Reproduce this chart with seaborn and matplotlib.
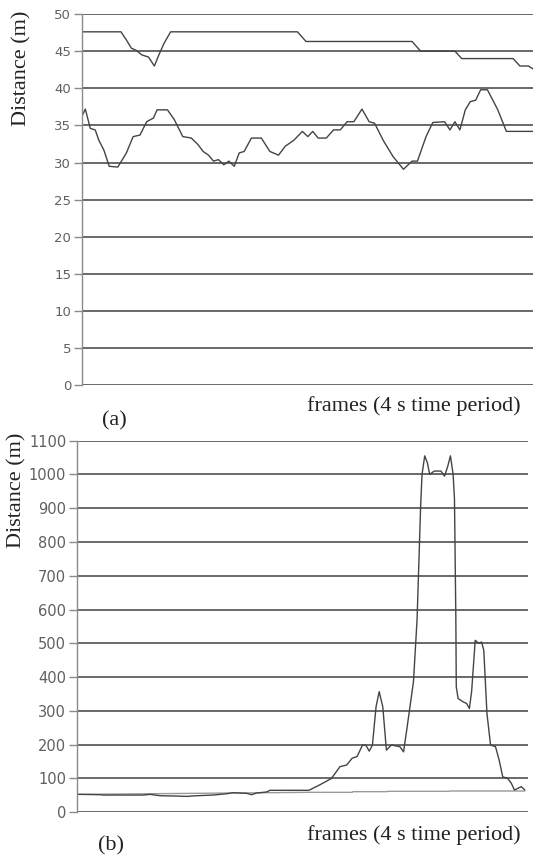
import matplotlib
matplotlib.use("Agg")
import matplotlib.pyplot as plt
import numpy as np
import pandas as pd
import seaborn as sns

# Panel (a): two distance traces over the frames of a 4 s period
a_upper_frames = [0, 8.7, 9.9, 11.0, 12.1, 13.3, 14.8, 16.1, 17.1, 18.2, 19.7, 47.8, 49.7,
                  73.2, 75.1, 82.7, 84.2, 95.6, 97.1, 99.0, 100]
a_upper_dist = [47.6, 47.6, 46.5, 45.4, 45.1, 44.5, 44.2, 43.0, 44.5, 46.0, 47.6, 47.6, 46.3,
                46.3, 45.0, 45.0, 44.0, 44.0, 43.0, 43.0, 42.6]

a_lower_frames = [0, 0.8, 1.9, 3.0, 3.8, 4.9, 6.1, 8.0, 8.3, 9.9, 11.4, 12.9, 14.4, 15.9, 16.7,
                  19.0, 20.5, 22.4, 24.3, 25.8, 26.9, 28.1, 29.2, 30.3, 31.5, 32.6, 33.8, 34.9,
                  36.0, 37.6, 39.8, 41.7, 43.6, 45.1, 47.0, 48.9, 50.1, 51.2, 52.4, 54.2, 55.8,
                  57.3, 58.8, 60.3, 62.1, 63.7, 64.9, 66.8, 69.0, 71.3, 73.2, 74.4, 76.3, 77.8,
                  80.4, 81.6, 82.7, 83.8, 85.0, 86.1, 87.3, 88.4, 89.9, 92.2, 94.1, 100]
a_lower_dist = [36.2, 37.2, 34.6, 34.4, 33.0, 31.7, 29.5, 29.4, 29.7, 31.3, 33.5, 33.7, 35.5,
                36.0, 37.1, 37.1, 35.8, 33.5, 33.3, 32.4, 31.5, 31.0, 30.2, 30.4, 29.7, 30.2,
                29.5, 31.3, 31.5, 33.3, 33.3, 31.5, 31.0, 32.2, 33.0, 34.2, 33.5, 34.2, 33.3,
                33.3, 34.4, 34.4, 35.5, 35.5, 37.2, 35.5, 35.3, 33.0, 30.8, 29.1, 30.2, 30.2,
                33.5, 35.4, 35.5, 34.4, 35.5, 34.4, 37.1, 38.2, 38.4, 39.8, 39.8, 37.1, 34.2, 34.2]

# Panel (b)
b_main_frames = [0, 0.7, 5.2, 5.9, 14.8, 16.3, 18.5, 22.2, 24.4, 26.6, 30.3, 33.3, 34.7, 37.7,
                 38.8, 39.9, 42.1, 42.9, 51.5, 53.9, 56.5, 58.4, 59.9, 61.1, 62.2, 63.4, 64.1,
                 64.9, 65.6, 66.4, 67.1, 67.9, 68.7, 69.8, 71.7, 72.5, 73.2, 74.7, 75.5, 76.3,
                 76.6, 77.2, 77.8, 78.3, 79.3, 80.8, 81.6, 82.3, 82.9, 83.5, 83.8, 84.1, 84.2,
                 84.6, 85.7, 86.5, 87.1, 87.6, 88.4, 89.2, 89.8, 90.3, 91.0, 91.8, 92.9, 93.7,
                 94.5, 95.6, 96.4, 97.1, 97.9, 98.6, 99.4]
b_main_dist = [53, 53, 52, 51, 51, 53, 49, 48, 47, 49, 51, 55, 58, 56, 52, 57, 60, 65, 65, 81,
               100, 135, 140, 160, 165, 199, 199, 181, 199, 312, 357, 312, 184, 199, 194, 179,
               243, 386, 570, 908, 1000, 1055, 1034, 1000, 1010, 1010, 995, 1024, 1055, 1000,
               927, 578, 371, 337, 327, 322, 307, 357, 509, 500, 504, 480, 293, 199, 194, 155,
               105, 100, 86, 66, 71, 76, 66]

b_base_frames = [0, 51.5, 61.1, 61.3, 68.8, 69.0, 82.7, 82.9, 99.4]
b_base_dist = [53, 59, 59, 61, 61, 62, 62, 63, 63]

a_ticks = list(range(0, 55, 5))
b_ticks = list(range(0, 1200, 100))

xlabel = "frames (4 s time period)"
ylabel = "Distance (m)"

sns.set_theme(style="white")
plt.rcParams["font.family"] = ["DejaVu Sans"]
serif = ["Liberation Serif", "DejaVu Serif"]

fig = plt.figure(figsize=(5.33, 8.58), dpi=100)
ax_a = fig.add_axes([0.1533, 0.5507, 0.8467, 0.4330])
ax_b = fig.add_axes([0.1439, 0.0533, 0.8458, 0.4331])

line_col = "#444444"
grid_col = "#404040"


def style_axes(ax, ticks, size):
    ax.set_ylim(ticks[0], ticks[-1])
    ax.set_xlim(0, 100)
    ax.set_yticks(ticks)
    ax.set_xticks([])
    ax.grid(axis="y", color=grid_col, lw=1.1)
    ax.set_axisbelow(True)
    for s in ["top", "right", "bottom"]:
        ax.spines[s].set_visible(False)
    ax.spines["left"].set_color("#8a8a8a")
    ax.spines["left"].set_linewidth(1.0)
    ax.tick_params(axis="y", left=True, length=6, width=1, color="#8a8a8a",
                   labelsize=size, labelcolor="#606060", pad=1.5)
    ax.set_xlabel("")
    ax.set_ylabel("")


df_a1 = pd.DataFrame({"frame": a_upper_frames, "dist": a_upper_dist})
df_a2 = pd.DataFrame({"frame": a_lower_frames, "dist": a_lower_dist})
sns.lineplot(data=df_a1, x="frame", y="dist", ax=ax_a, color=line_col, lw=1.0, estimator=None)
sns.lineplot(data=df_a2, x="frame", y="dist", ax=ax_a, color=line_col, lw=1.0, estimator=None)
style_axes(ax_a, a_ticks, 9.5)

df_b1 = pd.DataFrame({"frame": b_base_frames, "dist": b_base_dist})
df_b2 = pd.DataFrame({"frame": b_main_frames, "dist": b_main_dist})
sns.lineplot(data=df_b1, x="frame", y="dist", ax=ax_b, color="#999999", lw=1.0, estimator=None)
sns.lineplot(data=df_b2, x="frame", y="dist", ax=ax_b, color=line_col, lw=1.0, estimator=None)
style_axes(ax_b, b_ticks, 10.5)

# labels placed like the scanned figure
fig.text(22 / 533, 1 - 68 / 858, ylabel, rotation=90, ha="center", va="center",
         family=serif, size=16, color="#222222")
fig.text(17 / 533, 1 - 490 / 858, ylabel, rotation=90, ha="center", va="center",
         family=serif, size=16, color="#222222")
fig.text(521 / 533, 1 - 406 / 858, xlabel, ha="right", va="center",
         family=serif, size=16, color="#222222")
fig.text(521 / 533, 1 - 835 / 858, xlabel, ha="right", va="center",
         family=serif, size=16, color="#222222")
fig.text(114 / 533, 1 - 421 / 858, "(a)", ha="center", va="center",
         family=serif, size=16, color="#222222")
fig.text(111 / 533, 1 - 846 / 858, "(b)", ha="center", va="center",
         family=serif, size=16, color="#222222")

fig.savefig("out.png", dpi=100)
